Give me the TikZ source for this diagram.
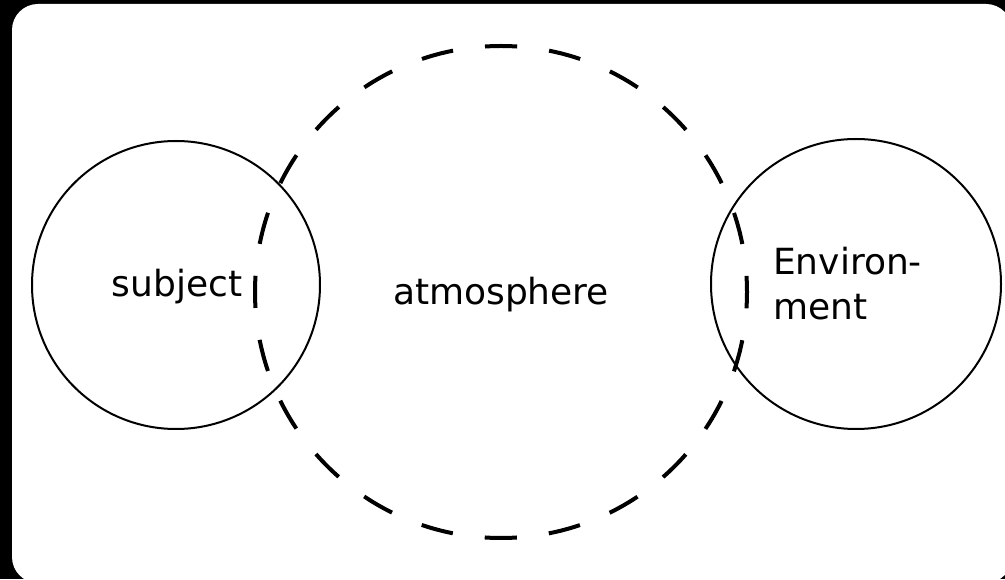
\documentclass[tikz,border=0pt]{standalone}
\usepackage{fontspec}
\setmainfont{DejaVu Sans}

\begin{document}
\begin{tikzpicture}[x=1pt,y=1pt,
        ring/.style={circle, draw=black, line width=2pt, inner sep=0pt},
        haze/.style={circle, draw=black, line width=4pt, inner sep=0pt,
            dash pattern={on 32.2pt off 32.2pt}, dash phase=16.1pt},
        word/.style={inner sep=0pt, font=\fontsize{36}{45}\selectfont}]
        % 背景
        \clip (0,0) rectangle (1005,579);
        \fill[black] (0,0) rectangle (1005,579);
        \fill[white, rounded corners=26pt] (12,575) rectangle (1012,-4);

        % 定义坐标
        \coordinate (S) at (176,294);
        \coordinate (A) at (501,287);
        \coordinate (E) at (856,295);

        % 绘制圆
        \node[ring, minimum size=288pt] (subject) at (S) {};
        \node[ring, minimum size=290pt] (environment) at (E) {};
        \node[haze, minimum size=492pt] (atmosphere) at (A) {};

        % 文字
        \node[word, anchor=base] (subjtext) at (177,282) {subject};
        \node[word, anchor=base] (atmotext) at (501,274) {atmosphere};
        \node[word, anchor=base west, align=left] (envtext) at (773,259) {Environ-\\ment};
    \end{tikzpicture}
\end{document}
